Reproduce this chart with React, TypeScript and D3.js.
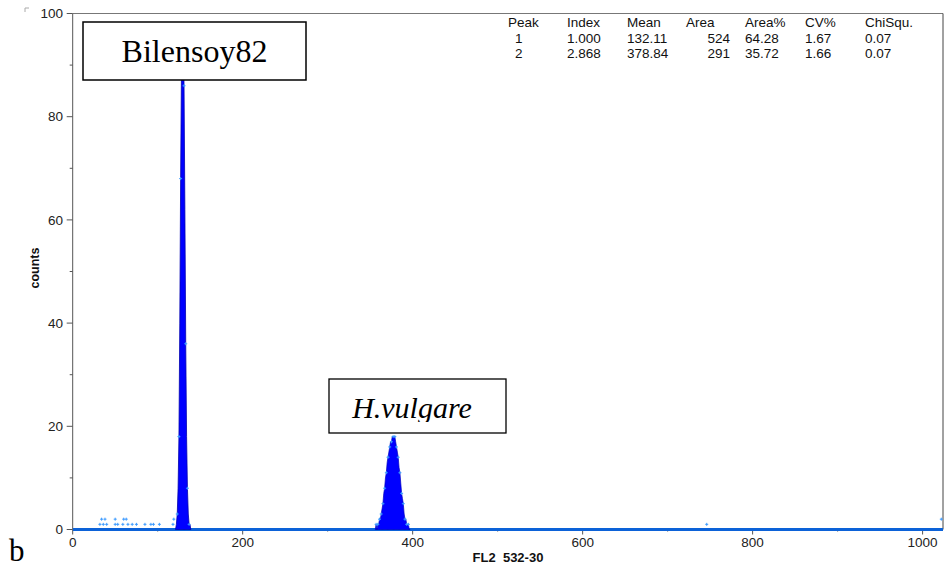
import React from "react";
import { scaleLinear, area, range, curveLinear } from "d3";

// histogram channels / counts
const peak1Channels = [121, 122, 123, 124, 125, 126, 127, 128, 129, 130, 131, 132, 133, 134, 135, 136, 137, 138, 139];
const peak1Counts = [0, 1, 3, 8, 18, 40, 68, 90, 97, 96, 86, 62, 36, 18, 8, 3, 1, 1, 0];

const peak2Channels = [356, 357, 358, 359, 360, 361, 362, 363, 364, 365, 366, 367, 368, 369, 370, 371, 372, 373, 374, 375, 376, 377, 378, 379, 380, 381, 382, 383, 384, 385, 386, 387, 388, 389, 390, 391, 392, 393, 394, 395, 396, 397];
const peak2Counts = [0, 1, 0, 1, 1, 2, 2, 3, 4, 5, 7, 8, 10, 11, 13, 14, 15, 16, 17, 17, 18, 18, 18, 18, 17, 16, 15, 14, 12, 11, 9, 7, 6, 5, 3, 2, 2, 1, 1, 1, 0, 0];

const strayChannels = [32, 34, 36, 38, 40, 50, 50, 53, 59, 60, 63, 65, 70, 75, 85, 92, 95, 102, 118, 119, 746, 1022];
const strayCounts = [1, 2, 1, 2, 1, 1, 2, 1, 1, 2, 2, 1, 1, 1, 1, 1, 1, 1, 1, 2, 1, 2];

const yTicks = [0, 20, 40, 60, 80, 100];
const xTicks = [0, 200, 400, 600, 800, 1000];

const tableHeader = ["Peak", "Index", "Mean", "Area", "Area%", "CV%", "ChiSqu."];
const tableRows = [
  ["1", "1.000", "132.11", "524", "64.28", "1.67", "0.07"],
  ["2", "2.868", "378.84", "291", "35.72", "1.66", "0.07"],
];

export default function App() {
  const x = scaleLinear().domain([0, 1024]).range([72.7, 943]);
  const y = scaleLinear().domain([0, 100]).range([529.5, 13.5]);

  const histArea = area<number>()
    .x((d) => x(d))
    .y0(y(0))
    .curve(curveLinear);

  const p1 = histArea.y1((d, i) => y(peak1Counts[i]))(peak1Channels);
  const p2 = histArea.y1((d, i) => y(peak2Counts[i]))(peak2Channels);

  const sans = "'Liberation Sans', Arial, sans-serif";
  const serif = "'Liberation Serif', 'Times New Roman', serif";
  const colX = [508, 567, 627, 686, 745, 805, 865];

  const plus = (cx: number, cy: number, k: string) => (
    <path key={k} d={`M${cx - 1.5},${cy}H${cx + 1.5}M${cx},${cy - 1.5}V${cy + 1.5}`} stroke="#3d9bff" strokeWidth={1} />
  );

  return (
    <svg width={947} height={569} style={{ position: "absolute", left: 0, top: 0, background: "#fff" }}>
      <defs>
        <clipPath id="plotClip">
          <rect x={x(0)} y={y(100)} width={x(1024) - x(0)} height={y(0) - y(100) + 3} />
        </clipPath>
        <clipPath id="hvClip">
          <rect x={329} y={379} width={178} height={43} />
        </clipPath>
      </defs>

      {/* corner mark */}
      <path d="M25,12V8H29" stroke="#aaa" fill="none" />

      {/* frame */}
      <line x1={x(0)} x2={x(1024)} y1={y(100)} y2={y(100)} stroke="#777" />
      <line x1={x(1024)} x2={x(1024)} y1={y(100)} y2={y(0)} stroke="#444" />
      <line x1={x(0)} x2={x(0)} y1={y(100)} y2={y(0)} stroke="#555" />

      {/* y axis */}
      {range(0, 101, 10).map((v) => (
        <line key={"ym" + v} x1={x(0) - (v % 20 === 0 ? 6 : 3)} x2={x(0)} y1={y(v)} y2={y(v)} stroke="#555" />
      ))}
      {yTicks.map((v) => (
        <text key={"yl" + v} x={63} y={y(v)} dy="0.35em" textAnchor="end" fontFamily={sans} fontSize={13.5} fill="#222">
          {v}
        </text>
      ))}
      <text transform="translate(39,268) rotate(-90)" textAnchor="middle" fontFamily={sans} fontSize={12.5} fontWeight="bold" fill="#111">
        counts
      </text>

      {/* x axis */}
      {range(0, 1001, 100).map((v) => (
        <line key={"xm" + v} x1={x(v)} x2={x(v)} y1={y(0)} y2={y(0) + (v % 200 === 0 ? 5 : 2)} stroke="#555" />
      ))}
      {xTicks.map((v) => (
        <text key={"xl" + v} x={x(v)} y={547} textAnchor="middle" fontFamily={sans} fontSize={13.5} fill="#222">
          {v}
        </text>
      ))}
      <text x={508} y={562} textAnchor="middle" fontFamily={sans} fontSize={13} fontWeight="bold" fill="#111" style={{ whiteSpace: "pre" }}>
        {"FL2  532-30"}
      </text>

      {/* data */}
      <g clipPath="url(#plotClip)">
        <line x1={x(0)} x2={x(1024)} y1={y(0)} y2={y(0)} stroke="#0c62d8" strokeWidth={3} />
        <path d={p1 || ""} fill="#0000ff" stroke="#0000b0" strokeWidth={0.8} />
        <path d={p2 || ""} fill="#0000ff" stroke="#0000c0" strokeWidth={0.7} />
        {peak1Channels.map((c, i) => (peak1Counts[i] > 0 && i % 2 === 0 ? plus(x(c), y(peak1Counts[i]), "a" + i) : null))}
        {peak2Channels.map((c, i) => (peak2Counts[i] > 0 && i % 2 === 1 ? plus(x(c), y(peak2Counts[i]), "b" + i) : null))}
        {strayChannels.map((c, i) => plus(x(c), y(strayCounts[i]), "s" + i))}
      </g>

      {/* table */}
      {tableHeader.map((h, i) => (
        <text key={"h" + i} x={colX[i]} y={26.5} fontFamily={sans} fontSize={13.5} fill="#111">
          {h}
        </text>
      ))}
      {tableRows.map((row, r) =>
        row.map((v, i) => (
          <text
            key={"r" + r + i}
            x={i === 0 ? 515 : i === 3 ? 730 : colX[i]}
            y={42.5 + r * 15}
            textAnchor={i === 3 ? "end" : "start"}
            fontFamily={sans}
            fontSize={13.5}
            fill="#111"
          >
            {v}
          </text>
        ))
      )}

      {/* labels */}
      <rect x={83} y={22} width={223} height={58} fill="#fff" stroke="#000" strokeWidth={1.5} />
      <text x={194.5} y={62} textAnchor="middle" fontFamily={serif} fontSize={32} fill="#000">
        Bilensoy82
      </text>
      <rect x={329} y={379} width={177} height={54} fill="#fff" stroke="#000" strokeWidth={1.3} />
      <text x={412} y={418} textAnchor="middle" fontFamily={serif} fontStyle="italic" fontSize={30} fill="#000" clipPath="url(#hvClip)">
        H.vulgare
      </text>

      <text x={9} y={561} fontFamily={serif} fontSize={31} fill="#000">
        b
      </text>
    </svg>
  );
}
